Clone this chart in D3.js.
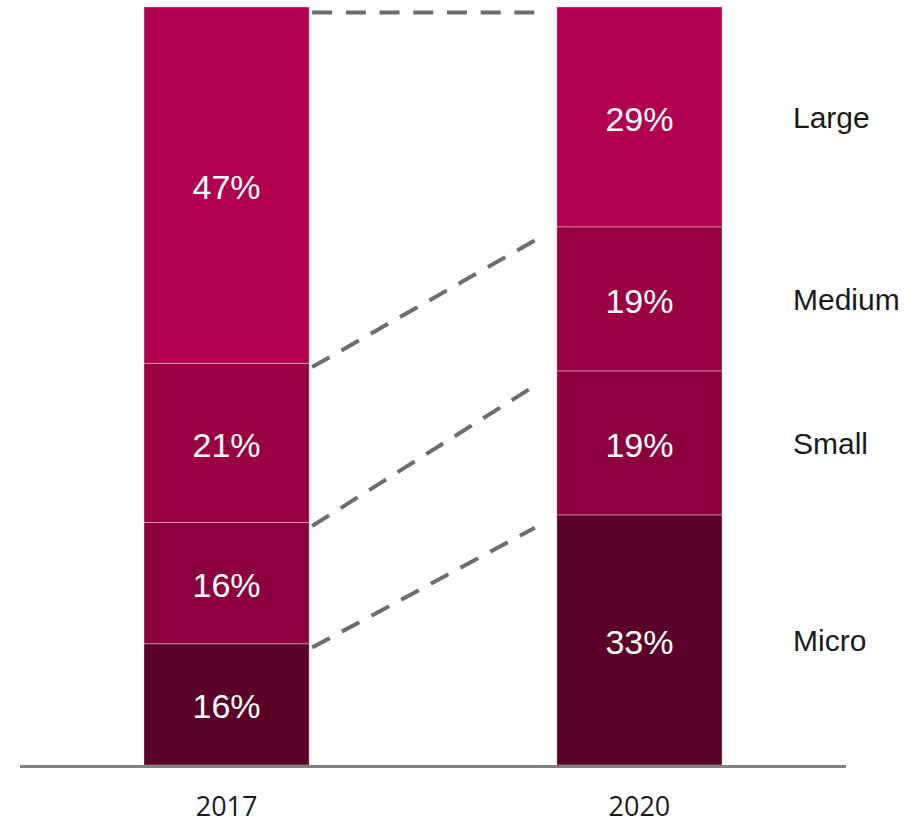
<!DOCTYPE html>
<html>
<head>
<meta charset="utf-8">
<script src="https://cdn.jsdelivr.net/npm/d3@7"></script>
<style>
  html, body { margin: 0; padding: 0; background: #ffffff; }
  svg { display: block; }
  .pct, .cat { font-family: Arial, "Liberation Sans", Helvetica, sans-serif; }
  .yr { font-family: "Open Sans", sans-serif; }
</style>
</head>
<body>
<svg id="chart" width="924" height="823"></svg>
<script>
// ---- data ----
const years = ["2017", "2020"];
const categories = ["Micro", "Small", "Medium", "Large"]; // bottom to top
const values2017 = [16, 16, 21, 47];
const values2020 = [33, 19, 19, 29];
const colors = ["#5a0029", "#8b003f", "#990044", "#b0004e"];

const series = { "2017": values2017, "2020": values2020 };

const svg = d3.select("#chart");

const x = d3.scaleBand().domain(years).range([144, 722]).paddingInner(0.6).paddingOuter(0);
const y = d3.scaleLinear().domain([0, 100]).range([765, 7]);

function stackOf(vals) {
  let acc = 0;
  return vals.map((v, i) => { const d = { cat: categories[i], v, y0: acc, y1: acc + v, i }; acc += v; return d; });
}
const stacks = {};
years.forEach(yr => stacks[yr] = stackOf(series[yr]));

// bars
years.forEach(yr => {
  const g = svg.append("g");
  g.selectAll("rect").data(stacks[yr]).join("rect")
    .attr("x", x(yr))
    .attr("width", x.bandwidth())
    .attr("y", d => y(d.y1))
    .attr("height", d => y(d.y0) - y(d.y1))
    .attr("fill", d => colors[d.i])
    .attr("stroke", "rgba(255,255,255,0.35)")
    .attr("stroke-width", 1);
  g.selectAll("text").data(stacks[yr]).join("text")
    .attr("class", "pct")
    .attr("x", x(yr) + x.bandwidth() / 2)
    .attr("y", d => (y(d.y0) + y(d.y1)) / 2 + 2)
    .attr("text-anchor", "middle")
    .attr("dominant-baseline", "central")
    .attr("font-size", 34)
    .attr("fill", "#ffffff")
    .text(d => d.v + "%");
});

// dashed connectors between segment tops
const xa = x("2017") + x.bandwidth();
const xb = x("2020");
const connectors = categories.map((c, i) => ({ t1: stacks["2017"][i].y1, t2: stacks["2020"][i].y1 }));
svg.append("g").selectAll("line").data(connectors).join("line")
  .each(function(d) {
    const ya = y(d.t1) + 5.5;
    const yb = y(d.t2) + (d.t1 === d.t2 ? 5.5 : 1);
    const sx = xa + 3, ex = xb - 22;
    const f = t => ya + (yb - ya) * (t - xa) / (xb - xa);
    d3.select(this)
      .attr("x1", sx).attr("y1", f(sx))
      .attr("x2", ex).attr("y2", f(ex));
  })
  .attr("stroke", "#6d6d6d")
  .attr("stroke-width", 4)
  .attr("stroke-dasharray", "20,13.7");

// category labels (aligned to 2020 segments)
svg.append("g").selectAll("text").data(stacks["2020"]).join("text")
  .attr("class", "cat")
  .attr("x", 793)
  .attr("y", d => (y(d.y0) + y(d.y1)) / 2 + 1)
  .attr("dominant-baseline", "central")
  .attr("font-size", 30)
  .attr("fill", "#1a1a1a")
  .text(d => d.cat);

// baseline
svg.append("line")
  .attr("x1", 20).attr("x2", 846)
  .attr("y1", y(0) + 1.5).attr("y2", y(0) + 1.5)
  .attr("stroke", "#808080").attr("stroke-width", 3);

// x axis labels
const xAxis = d3.axisBottom(x).tickSize(0).tickPadding(0);
const ax = svg.append("g").attr("transform", `translate(0, ${y(0) + 42})`).call(xAxis);
ax.select(".domain").remove();
ax.selectAll("text")
  .attr("class", "yr")
  .attr("font-family", null)
  .attr("font-size", 27)
  .attr("fill", "#1a1a1a")
  .attr("dy", "0.35em")
  .attr("y", 0);
ax.attr("font-family", null);
</script>
</body>
</html>
